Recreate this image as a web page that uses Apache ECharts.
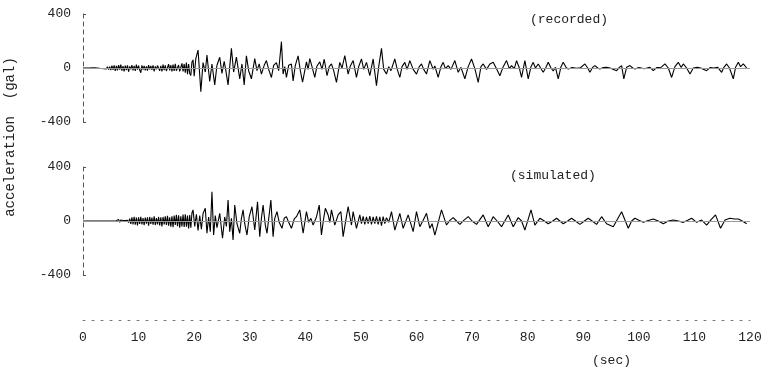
<!DOCTYPE html>
<html>
<head>
<meta charset="utf-8">
<script src="https://cdn.jsdelivr.net/npm/echarts@6/dist/echarts.min.js"></script>
<style>
html,body{margin:0;padding:0;background:#fff;}
#c{width:766px;height:372px;}
</style>
</head>
<body>
<div id="c"></div>
<script>
// x-axis tick labels (sec) and y-axis ticks (gal)
var xTicks = [0, 10, 20, 30, 40, 50, 60, 70, 80, 90, 100, 110, 120];
var yTicks = [-400, 0, 400];
var panelLabels = ['(recorded)', '(simulated)'];

// recorded acceleration: time (sec) and value (gal)
var recT = [0,1,2,
  3,3.2,3.4,3.6,3.8,4,4.2,4.4,4.6,4.8,5,5.2,5.4,5.6,5.8,6,6.2,6.4,6.6,6.8,7,7.2,7.4,7.6,7.8,8,8.2,8.4,8.6,8.8,9,9.2,9.4,9.6,9.8,10,10.2,10.4,10.6,10.8,11,11.2,11.4,11.6,11.8,12,12.2,12.4,12.6,12.8,13,13.2,13.4,13.6,13.8,14,14.2,14.4,14.6,14.8,15,15.2,15.4,15.6,15.8,16,16.2,16.4,16.6,16.8,17,17.2,17.4,17.6,17.8,18,18.2,18.4,18.6,18.8,19,19.2,19.4,19.6,
  19.8,20,20.3,20.7,21.2,21.6,22,22.3,22.8,23.2,23.7,24.1,24.6,25,25.4,25.7,26.1,26.7,27.1,27.6,28.2,28.6,29,29.4,29.8,30.3,30.9,31.3,31.7,32.1,32.6,33,33.4,33.9,34.3,34.8,35.2,35.7,36,36.3,36.6,37,37.5,37.8,38.2,38.7,39.1,39.5,40.2,40.5,40.8,41.2,41.7,42.1,42.6,43,43.4,43.9,44.3,44.7,45.1,45.6,46.2,46.6,47.1,47.7,48.1,48.6,49.2,49.6,50.1,50.5,51,51.6,52.2,52.8,53.2,53.7,54.1,54.6,55,55.4,56.1,56.5,57,57.4,57.9,58.3,58.8,59.4,60,60.5,60.9,61.3,61.8,62.4,63,63.3,63.9,64.4,64.8,65.2,65.7,66.2,66.9,67.5,68,68.7,69.3,69.9,70.5,71.1,71.6,72,72.6,73.2,73.8,74.4,75,75.6,76.2,76.7,77.1,77.6,78,78.5,78.9,79.5,80.1,80.6,81,81.4,81.9,82.4,82.8,83.3,83.7,84.2,84.6,85,85.5,86,86.4,86.9,87.3,88,88.8,89.5,90.3,90.8,91.2,91.7,92.1,92.6,93,93.6,94.2,95,96,96.5,96.9,97.3,97.8,98.4,98.9,99.3,100,101,102,102.6,103.2,104,104.7,105.3,105.9,106.5,107.1,107.6,108,108.6,109.2,109.8,110.5,111.3,112.2,112.8,113.5,114.2,114.9,115.3,115.8,116.3,117,117.4,117.9,118.3,118.8,119.4];
var recA = [0,0,2,
  -3,5,-4,6,-5,8,-7,10,-12,9,-15,18,-14,20,-22,15,-18,22,-12,25,-20,14,-25,18,-15,20,-28,12,-10,22,-18,15,-22,25,-12,18,-15,-35,20,-12,15,-18,12,-20,22,-10,16,-14,20,-25,12,-10,18,30,-20,15,-25,25,-15,20,-22,-30,28,-18,22,-25,25,-22,30,-20,-28,22,-25,-38,35,-25,30,-35,40,-45,30,-40,-55,45,
  60,-60,70,133,-175,40,-30,96,-100,30,-125,20,80,-40,50,-20,-125,145,-30,80,-80,30,-125,90,-20,-80,70,-20,30,-45,20,55,-10,-70,20,40,-20,195,-45,10,-70,20,30,-95,20,90,-20,-105,45,-10,70,10,-70,15,45,-10,65,-57,10,30,-20,-106,42,0,91,-45,15,55,-70,10,67,-10,42,-57,67,-131,10,145,-10,-45,10,-20,67,-5,-70,10,42,-10,55,-10,-45,10,30,-10,-45,55,-10,15,-70,10,42,-5,18,-10,55,-32,5,-80,10,67,-5,-106,10,30,-10,30,42,-5,-57,10,55,-5,18,-5,55,0,-70,55,-80,10,42,0,30,-5,-32,5,42,0,-22,5,-80,10,42,5,-7,3,-3,2,30,0,-32,5,18,0,-7,3,5,-3,-20,5,18,-80,5,18,0,-7,3,-5,5,-20,3,5,30,0,-70,10,42,5,30,0,-45,0,5,-3,-20,3,0,5,-32,5,30,0,-80,5,42,10,30,0];

// simulated acceleration: time (sec) and value (gal)
var simT = [0,5,
  6,6.2,6.4,6.6,6.8,7,7.2,7.4,7.6,7.8,8,8.2,8.4,8.6,8.8,9,9.2,9.4,9.6,9.8,10,10.2,10.4,10.6,10.8,11,11.2,11.4,11.6,11.8,12,12.2,12.4,12.6,12.8,13,13.2,13.4,13.6,13.8,14,14.2,14.4,14.6,14.8,15,15.2,15.4,15.6,15.8,16,16.2,16.4,16.6,16.8,17,17.2,17.4,17.6,17.8,18,18.2,18.4,18.6,18.8,19,19.2,19.4,19.6,
  19.8,20.1,20.4,20.7,21,21.3,21.6,22,22.3,22.6,22.9,23.2,23.5,23.8,24.1,24.6,25.1,25.5,25.8,26.1,26.4,26.7,27,27.3,27.7,28.2,28.5,28.8,29.1,29.5,29.9,30.4,30.9,31.4,31.8,32.1,32.4,32.8,33.1,33.8,34.2,34.5,34.9,35.3,35.8,36.2,36.6,37,37.5,38,38.4,39,39.6,40.2,40.6,41,41.4,42,42.5,42.9,43.3,43.6,44.1,44.4,44.7,45.3,45.9,46.4,46.8,47.3,47.7,48.3,48.6,49.2,49.8,50.1,50.4,50.7,51,51.3,51.6,51.9,52.2,52.5,52.8,53.1,53.4,53.7,54,54.3,54.6,55,55.5,56.1,57,57.6,58.5,59.4,60,60.6,61.2,61.8,62.4,62.8,63.3,64.5,65.4,66,66.6,67.2,67.8,68.5,69.3,70,70.8,71.4,72,72.9,73.8,74.5,75.3,76.5,77.4,78.3,78.9,79.5,80.6,81.3,82.2,83,83.7,84.5,85.2,85.8,86.4,87.2,87.9,88.6,89.4,90.2,90.9,91.6,92.4,93.3,94.2,95.4,96.9,98.1,98.7,99.3,100,100.8,101.7,102.6,103.5,104.4,105.3,106.2,107.1,108,108.8,109.5,110.4,111.3,112.2,113,113.8,114.7,115.5,116.4,117.2,117.9,118.6,119.4];
var simA = [0,0,
  2,-8,12,-10,8,-5,4,-3,3,-4,6,-12,18,-22,28,-25,30,-28,25,-32,28,-22,30,-25,22,-30,26,-20,28,-35,30,-22,25,-28,35,-30,22,-25,30,-32,28,-40,30,-25,35,-30,38,-35,28,-42,35,-45,40,-30,45,-38,42,-50,35,-40,48,-45,50,-42,40,-55,45,-50,60,
  82,-40,50,-70,40,-60,55,94,-91,30,-80,217,-104,40,-50,57,-128,30,-40,155,-79,20,-141,118,-20,-91,20,82,-20,-104,30,106,-67,143,-116,20,118,-30,-91,155,-116,20,70,-10,-54,20,32,-10,-54,15,32,82,-91,70,-10,20,-30,30,118,-104,20,94,45,-10,82,-30,45,69,-116,10,106,-30,69,-54,45,-20,35,-25,30,-20,37,-25,30,-20,35,-25,30,-35,32,-20,25,-10,69,-67,57,-54,45,-79,69,-42,5,57,-54,-20,-104,82,-30,5,25,0,-25,5,32,0,-25,10,45,-42,32,0,-42,45,-42,25,0,-67,82,-30,20,0,-20,0,20,0,-20,0,20,0,-25,0,20,0,-25,32,-20,-42,69,-54,0,20,5,-10,3,15,0,-20,0,7,0,-10,5,20,-10,7,-30,10,45,-54,7,20,15,15,0,-20];

function pairs(t, a) {
  var out = [];
  var n = Math.min(t.length, a.length);
  for (var i = 0; i < n; i++) out.push([t[i], a[i]]);
  return out;
}

var mono = '"Liberation Mono", "DejaVu Sans Mono", monospace';
var txt = '#222';

function yAxisCfg(gi) {
  return {
    gridIndex: gi, type: 'value', min: -400, max: 400, interval: 400,
    axisLine: { show: true, onZero: false, lineStyle: { color: '#555', width: 1, type: [4, 4] } },
    axisTick: { show: true, inside: true, length: 3, lineStyle: { color: '#555' } },
    axisLabel: { color: txt, fontFamily: mono, fontSize: 13, margin: 12,
      formatter: function (v) { return yTicks.indexOf(v) >= 0 ? String(v) : ''; } },
    splitLine: { show: false }
  };
}

function traceSeries(xi, data) {
  return {
    type: 'line', xAxisIndex: xi, yAxisIndex: xi, data: data,
    showSymbol: false, symbol: 'none', animation: false, silent: true,
    lineStyle: { color: '#000', width: 1.1 },
    markLine: { silent: true, symbol: 'none', label: { show: false },
      lineStyle: { color: '#999', width: 1, type: 'solid' },
      data: [{ yAxis: 0 }] }
  };
}

var chart = echarts.init(document.getElementById('c'), null, { renderer: 'canvas' });
chart.setOption({
  backgroundColor: '#fff',
  animation: false,
  grid: [
    { left: 83, width: 667, top: 14, height: 108 },
    { left: 83, width: 667, top: 167, height: 108 }
  ],
  xAxis: [
    { gridIndex: 0, type: 'value', min: 0, max: 120, show: false },
    { gridIndex: 1, type: 'value', min: 0, max: 120, interval: 10, offset: 45, position: 'bottom',
      axisLine: { show: true, onZero: false, lineStyle: { color: '#777', width: 1, type: [2, 7] } },
      axisTick: { show: false },
      splitLine: { show: false },
      axisLabel: { color: txt, fontFamily: mono, fontSize: 13, margin: 11,
        formatter: function (v) { return xTicks.indexOf(v) >= 0 ? String(v) : ''; } } }
  ],
  yAxis: [yAxisCfg(0), yAxisCfg(1)],
  series: [traceSeries(0, pairs(recT, recA)), traceSeries(1, pairs(simT, simA))],
  graphic: [
    { type: 'text', left: 530, top: 13, style: { text: panelLabels[0], fill: txt, font: '13px ' + mono } },
    { type: 'text', left: 510, top: 169, style: { text: panelLabels[1], fill: txt, font: '13px ' + mono } },
    { type: 'text', left: 592, top: 354, style: { text: '(sec)', fill: txt, font: '13px ' + mono } },
    { type: 'text', x: 10, y: 137, rotation: Math.PI / 2,
      style: { text: 'acceleration  (gal)', fill: txt, font: '14px ' + mono, align: 'center', verticalAlign: 'middle' } }
  ]
});
</script>
</body>
</html>
